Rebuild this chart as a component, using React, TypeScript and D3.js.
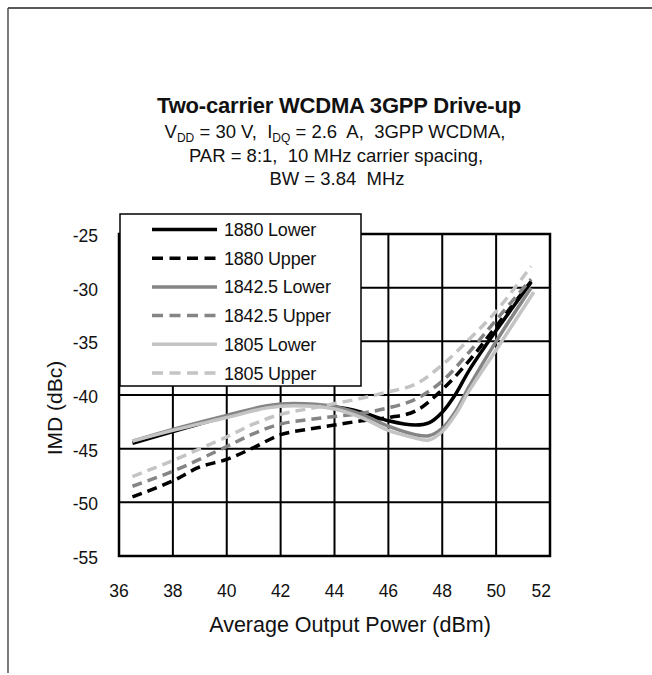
import React from "react";
import * as d3 from "d3";

const xTicks = [36, 38, 40, 42, 44, 46, 48, 50, 52];
const yTicks = [-25, -30, -35, -40, -45, -50, -55];

const seriesNames = ["1880 Lower", "1880 Upper", "1842.5 Lower", "1842.5 Upper", "1805 Lower", "1805 Upper"];
const seriesColors = ["#000000", "#000000", "#858585", "#858585", "#c4c4c4", "#c4c4c4"];
const seriesDashed = [false, true, false, true, false, true];

const lower1880X = [36.5, 38, 40, 41.5, 42.5, 44, 45, 46, 47, 47.5, 48, 48.5, 49, 50, 51.3];
const lower1880Y = [-44.5, -43.4, -42.0, -41.1, -40.9, -41.1, -41.6, -42.4, -42.8, -42.6, -41.6, -39.9, -37.7, -34.0, -29.5];

const lower1842X = [36.5, 38, 40, 41.5, 42.5, 44, 45, 46, 47, 47.5, 48, 48.5, 49, 50, 51.3];
const lower1842Y = [-44.3, -43.2, -41.9, -41.0, -40.8, -41.1, -41.8, -42.9, -43.7, -43.8, -43.1, -41.5, -39.2, -35.0, -30.0];

const lower1805X = [36.5, 38, 40, 41.5, 42.5, 44, 45, 46, 47, 47.5, 48, 48.5, 49, 50, 51.4];
const lower1805Y = [-44.3, -43.3, -42.1, -41.2, -41.0, -41.3, -42.1, -43.3, -44.0, -44.2, -43.4, -41.8, -39.6, -35.8, -30.4];

const upper1880X = [36.5, 38, 39, 40, 41, 42, 43, 44, 45, 46, 47, 48, 49, 50, 51.3];
const upper1880Y = [-49.5, -48.0, -46.7, -46.0, -44.9, -43.7, -43.2, -42.8, -42.4, -42.1, -41.5, -39.5, -36.8, -33.6, -29.4];

const upper1842X = [36.5, 38, 40, 41, 42, 43, 44, 45, 46, 47, 48, 49, 50, 51.3];
const upper1842Y = [-48.5, -47.1, -44.8, -43.6, -42.7, -42.3, -42.0, -41.7, -41.2, -40.4, -38.7, -36.0, -33.0, -29.2];

const upper1805X = [36.5, 38, 40, 41, 42, 43, 44, 45, 46, 47, 48, 49, 50, 51.3];
const upper1805Y = [-47.6, -46.1, -43.9, -42.7, -41.8, -41.3, -40.8, -40.3, -39.7, -39.0, -37.2, -34.8, -32.2, -28.0];

const seriesX = [lower1880X, upper1880X, lower1842X, upper1842X, lower1805X, upper1805X];
const seriesY = [lower1880Y, upper1880Y, lower1842Y, upper1842Y, lower1805Y, upper1805Y];

const FONT = "'Liberation Sans', Arial, sans-serif";

export default function App() {
  const W = 652, H = 675;
  const left = 119, right = 550, top = 234, bottom = 556;
  const x = d3.scaleLinear().domain([36, 52]).range([left, right]);
  const y = d3.scaleLinear().domain([-55, -25]).range([bottom, top]);
  const line = d3.line<[number, number]>()
    .x(d => x(d[0]))
    .y(d => y(d[1]))
    .curve(d3.curveCatmullRom.alpha(0.5));

  const legX = 120, legY = 214, legW = 241, legH = 172;
  const rowY0 = 229.5, rowStep = 28.7;
  const pre = { whiteSpace: "pre" as const };

  return (
    <svg width={W} height={H} style={{ position: "absolute", left: 0, top: 0, background: "#fff" }} fontFamily={FONT}>
      <rect x={0} y={0} width={W} height={H} fill="#fff" />
      {/* frame */}
      <line x1={8} y1={8} x2={W} y2={8} stroke="#222" strokeWidth={1.6} />
      <line x1={8} y1={8} x2={8} y2={673} stroke="#444" strokeWidth={1.4} />

      {/* title */}
      <text x={339} y={113} textAnchor="middle" fontSize={22} fontWeight="bold" fill="#111" letterSpacing={-0.2}>Two-carrier WCDMA 3GPP Drive-up</text>
      <text x={335} y={138} textAnchor="middle" fontSize={18.5} fill="#111" style={pre}>
        V<tspan fontSize={12} dy={4}>DD</tspan><tspan dy={-4}> = 30 V,  I</tspan><tspan fontSize={12} dy={4}>DQ</tspan><tspan dy={-4}> = 2.6  A,  3GPP WCDMA,</tspan>
      </text>
      <text x={336} y={161.5} textAnchor="middle" fontSize={18.5} fill="#111" style={pre}>PAR = 8:1,  10 MHz carrier spacing,</text>
      <text x={337} y={185} textAnchor="middle" fontSize={18.5} fill="#111" style={pre}>BW = 3.84  MHz</text>

      {/* grid */}
      {xTicks.slice(1, -1).map(t => (
        <line key={"gx" + t} x1={x(t)} x2={x(t)} y1={top} y2={bottom} stroke="#000" strokeWidth={2} />
      ))}
      {yTicks.slice(1, -1).map(t => (
        <line key={"gy" + t} x1={left} x2={right} y1={y(t)} y2={y(t)} stroke="#000" strokeWidth={2} />
      ))}
      <rect x={left} y={top} width={right - left} height={bottom - top} fill="none" stroke="#000" strokeWidth={2.5} />

      {/* tick labels */}
      {yTicks.map(t => (
        <text key={"yl" + t} x={98} y={y(t) + 8} textAnchor="end" fontSize={17.5} fill="#111">{t}</text>
      ))}
      {xTicks.map((t, i) => (
        <text key={"xl" + t} x={i === xTicks.length - 1 ? x(t) + 1 : x(t)} y={597}
          textAnchor={i === xTicks.length - 1 ? "end" : "middle"} fontSize={17.5} fill="#111">{t}</text>
      ))}
      <text x={350} y={632} textAnchor="middle" fontSize={21.5} fill="#111">Average Output Power (dBm)</text>
      <text transform={`translate(62,408) rotate(-90)`} textAnchor="middle" fontSize={21} fill="#111">IMD (dBc)</text>

      {/* series */}
      {seriesNames.map((n, i) => {
        const pts: [number, number][] = seriesX[i].map((v, j) => [v, seriesY[i][j]]);
        return (
          <path key={n} d={line(pts) || ""} fill="none" stroke={seriesColors[i]} strokeWidth={3.5}
            strokeDasharray={seriesDashed[i] ? "10,6" : undefined} strokeLinejoin="round" />
        );
      })}

      {/* legend */}
      <rect x={legX} y={legY} width={legW} height={legH} fill="#fff" stroke="#000" strokeWidth={1.5} />
      {seriesNames.map((n, i) => {
        const ry = rowY0 + i * rowStep;
        return (
          <g key={"lg" + n}>
            <line x1={152} x2={217} y1={ry} y2={ry} stroke={seriesColors[i]} strokeWidth={3.5}
              strokeDasharray={seriesDashed[i] ? "11,6.5" : undefined} />
            <text x={224} y={ry + 6.5} fontSize={18} fill="#111" letterSpacing={-0.2}>{n}</text>
          </g>
        );
      })}
    </svg>
  );
}
